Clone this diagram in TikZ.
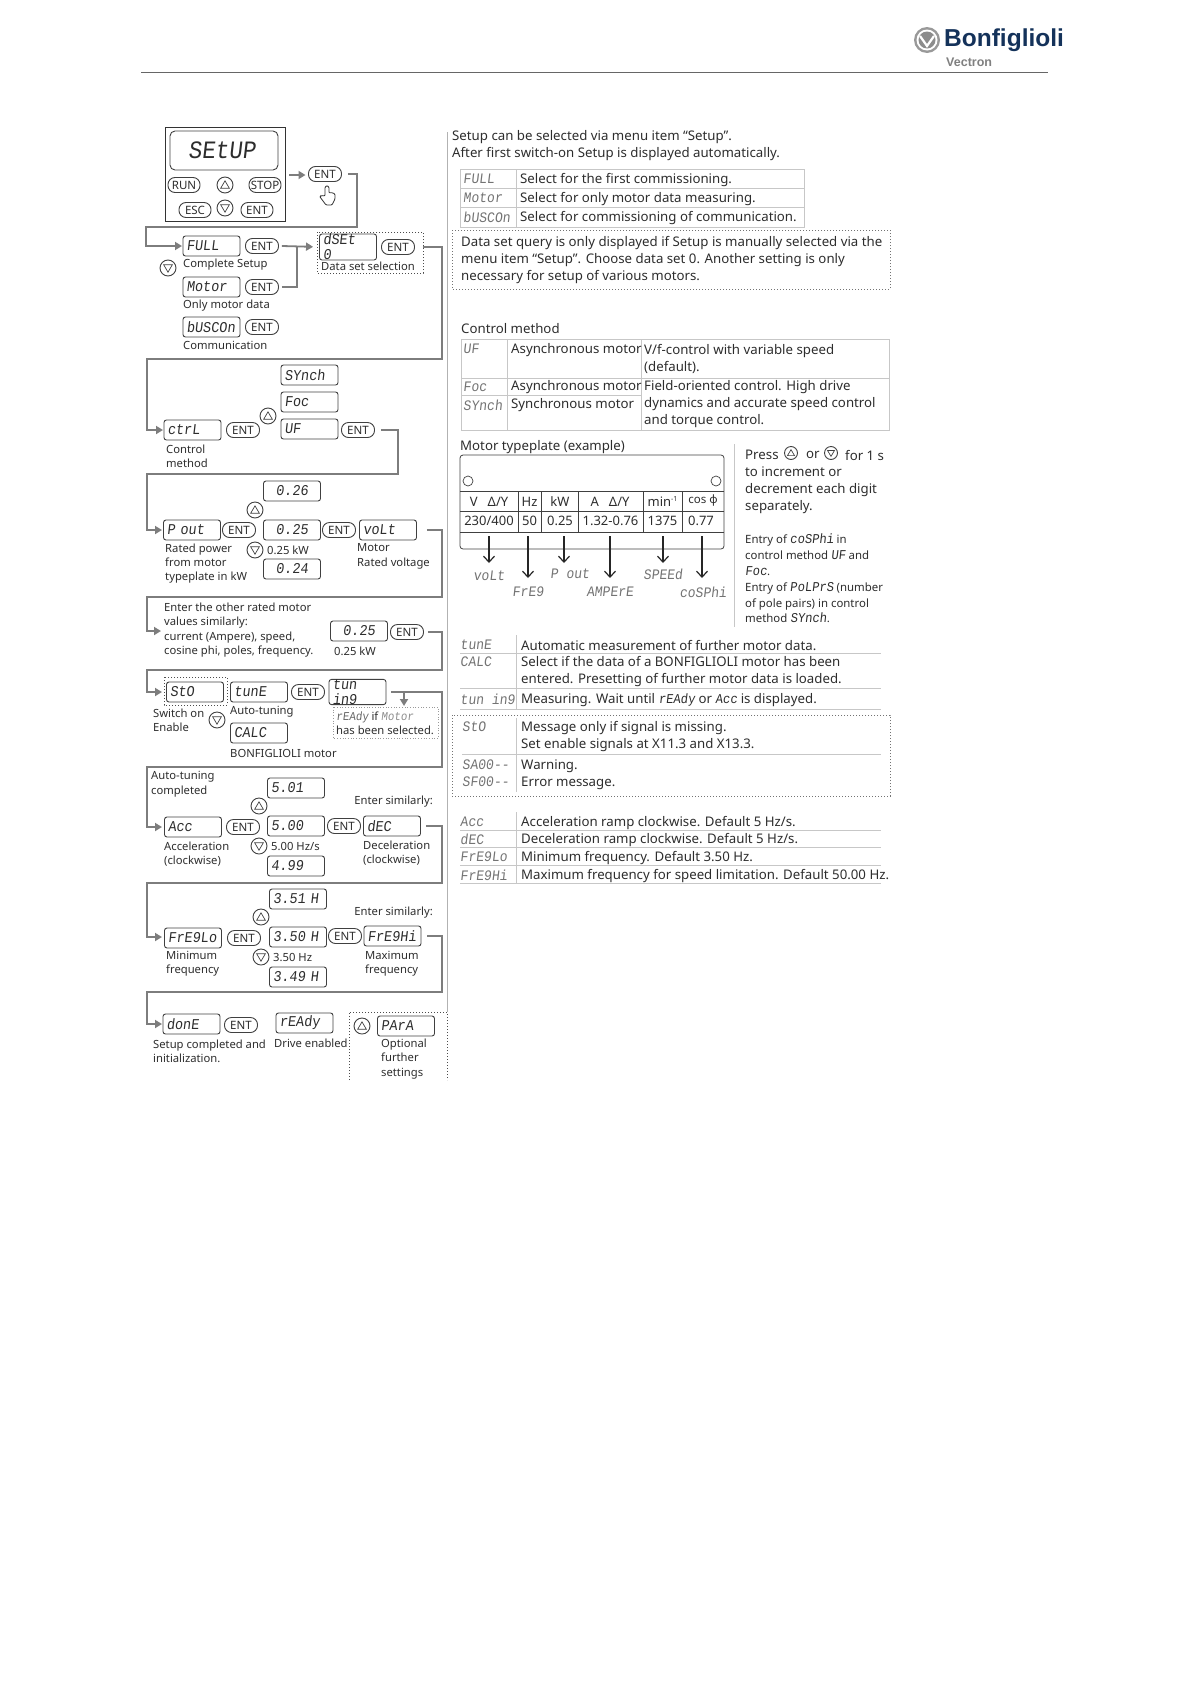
\documentclass[tikz,border=0pt]{standalone}
\usepackage{fontspec}
\usepackage{tikz}
\usetikzlibrary{arrows.meta}
\setmainfont{Noto Sans}
\newfontfamily\segfont[FakeSlant=0.12,FakeStretch=0.9]{Liberation Mono}
\newfontfamily\logofont{Liberation Sans}
\newcommand{\seg}[1]{{\segfont\fontsize{13.5}{13.5}\selectfont #1}}
\definecolor{flowgray}{RGB}{125,125,125}
\definecolor{inkdark}{RGB}{45,45,45}
\definecolor{navy}{RGB}{20,50,90}
\tikzset{
    every node/.style={text=inkdark},
    flow/.style={draw=flowgray,line width=1.8pt},
    flowtip/.style={flow,-{Triangle[length=7pt,width=8pt]}},
    platearrow/.style={draw=black!85,line width=1.2pt,-{Straight Barb[length=6pt,width=11pt]}},
    dispbox/.style={draw=black!75,line width=0.9pt,rounded corners=2.5pt,minimum width=57pt,minimum height=20pt,inner sep=0pt,text width=50pt,align=left,font=\segfont\fontsize{15}{15}\selectfont},
    dispnum/.style={dispbox,align=center},
    entkey/.style={draw=black!75,line width=0.9pt,rounded corners=7pt,minimum width=33pt,minimum height=15pt,inner sep=0pt,font=\fontsize{11.5}{12}\selectfont},
    upkey/.style={circle,draw=black!75,line width=0.9pt,minimum size=#1,inner sep=0pt,path picture={\draw[black!75,line width=0.7pt] ([yshift=0.26*#1]path picture bounding box.center) -- ([xshift=0.27*#1,yshift=-0.2*#1]path picture bounding box.center) -- ([xshift=-0.27*#1,yshift=-0.2*#1]path picture bounding box.center) -- cycle;}},
    downkey/.style={circle,draw=black!75,line width=0.9pt,minimum size=#1,inner sep=0pt,path picture={\draw[black!75,line width=0.7pt] ([yshift=-0.26*#1]path picture bounding box.center) -- ([xshift=0.27*#1,yshift=0.2*#1]path picture bounding box.center) -- ([xshift=-0.27*#1,yshift=0.2*#1]path picture bounding box.center) -- cycle;}},
    note/.style={anchor=west,inner sep=0pt,align=left,font=\fontsize{11.25}{14.4}\selectfont},
    body/.style={anchor=west,inner sep=0pt,align=left,yshift=-1pt,font=\fontsize{13.25}{17}\selectfont},
    tabseg/.style={anchor=west,inner sep=0pt,text=black!55,font=\segfont\fontsize{14.5}{15}\selectfont},
    cell/.style={inner sep=0pt,font=\fontsize{13}{15}\selectfont},
    tabline/.style={draw=black!22,line width=0.8pt},
    rulegray/.style={draw=black!30,line width=0.9pt},
    dotbox/.style={draw=black!70,line width=1pt,dotted},
}
\begin{document}
\begin{tikzpicture}[x=1pt,y=-1pt]
    \useasboundingbox (0,0) rectangle (1191,1684);

    % header
    \draw[draw=black!60,line width=1pt] (141,72) -- (1048,72);
    \fill[black!40] (927,40) circle (13);
    \fill[white] (927,40) circle (10.5);
    \fill[black!45] (927,40) circle (8.5);
    \draw[white,line width=2.2pt] (920,36) -- (927,46) -- (934,36);
    \node[anchor=west,inner sep=0pt,text=navy,font=\logofont\bfseries\fontsize{24.5}{26}\selectfont] (logoMain) at (944,40) {Bonfiglioli};
    \node[anchor=west,inner sep=0pt,text=black!50,font=\logofont\bfseries\fontsize{12.5}{13}\selectfont] (logoSub) at (946,62) {Vectron};

    % panel
    \draw[draw=black!80,line width=1pt] (165,127) rectangle (285,221);
    \node[dispbox,minimum width=108pt,minimum height=39pt,text width=100pt,align=center,rounded corners=5pt,font=\segfont\fontsize{25}{26}\selectfont] (setupBox) at (224,150.5) {\hspace*{-4pt}SEtUP};
    \node[entkey,minimum width=32pt] (runKey) at (184,185) {RUN};
    \node[upkey=16pt] (panelUp) at (225,185) {};
    \node[entkey,minimum width=32pt] (stopKey) at (265,185) {STOP};
    \node[entkey,minimum width=32pt] (escKey) at (195,210) {ESC};
    \node[downkey=16pt] (panelDown) at (225,208) {};
    \node[entkey,minimum width=32pt] (panelEnt) at (257,210) {ENT};
    \coordinate (panelOut) at (289,175);
    \draw[flowtip,shorten >=3pt] (panelOut) -- (308.5,175);
    \node[entkey] (entSetup) at (325,174) {ENT};
    % hand
    \draw[draw=black!80,line width=0.8pt,rounded corners=1pt,fill=white] (325,196) -- (325,187) -- (327,185.5) -- (329,187) -- (329,193) -- (331,192.5) -- (333,193) -- (335,194) -- (335,199) -- (332,205) -- (326,205) -- (320,197) -- (321,195.5) -- cycle;

    % mode selection
    \coordinate (turnA) at (357,227);
    \coordinate (railA) at (146,246);
    \draw[flowtip] ([xshift=6pt]entSetup.east) -| (turnA) -| (railA) -- (182,246);
    \node[dispbox] (fullBox) at (211.5,246) {FULL};
    \node[entkey] (entFull) at (262,246) {ENT};
    \node[note] (fullNote) at (183,265) {Complete Setup};
    \node[downkey=16pt] (modeDown) at (168,268) {};
    \node[dispbox] (motorBox) at (211.5,287) {Motor};
    \node[entkey] (entMotor) at (262,287) {ENT};
    \node[note] (motorNote) at (183,306) {Only motor data};
    \node[dispbox] (busBox) at (211.5,327) {bUSCOn};
    \node[entkey] (entBus) at (262,327) {ENT};
    \node[note] (busNote) at (183,345) {Communication};
    \node[dispbox] (dsetBox) at (348,247) {dSEt\ \ 0};
    \node[entkey] (entDset) at (398,247) {ENT};
    \node[note,anchor=center] (dsetNote) at (368,266) {Data set selection};
    \draw[dotbox] (317,232) rectangle (423,273);
    \draw[flow] ([xshift=3pt]entMotor.east) -| (297,246);
    \draw[flowtip,shorten >=6pt] ([xshift=3pt]entFull.east) -- (dsetBox.west);

    % control method
    \coordinate (turnB) at (442,359);
    \coordinate (railB) at (147,430);
    \draw[flowtip] ([xshift=8pt]entDset.east) -| (turnB) -| (railB) -- (163,430);
    \node[dispbox] (ctrlBox) at (192.5,430) {ctrL};
    \node[entkey] (entCtrl) at (243,430) {ENT};
    \node[note] (ctrlNote) at (166,456.5) {Control\\method};
    \node[upkey=16pt] (ctrlUp) at (268,416) {};
    \node[dispbox] (synchBox) at (309.5,375) {SYnch};
    \node[dispbox] (focBox) at (309.5,402) {Foc};
    \node[dispbox] (ufBox) at (309.5,429) {UF};
    \node[entkey] (entUf) at (358,430) {ENT};

    % rated power
    \coordinate (turnC) at (398,474);
    \coordinate (railC) at (147,530);
    \draw[flowtip] ([xshift=6pt]entUf.east) -| (turnC) -| (railC) -- (162,530);
    \node[dispbox] (poutBox) at (192,530) {P out};
    \node[entkey] (entPout) at (239,530) {ENT};
    \node[note] (poutNote) at (165,563.5) {Rated power\\from motor\\typeplate in kW};
    \node[upkey=16pt] (poutUp) at (255,510) {};
    \node[downkey=16pt] (poutDown) at (255,550) {};
    \node[dispnum] (pUpBox) at (292,491) {0.26};
    \node[dispnum] (pMidBox) at (292,530) {0.25};
    \node[dispnum] (pLowBox) at (292,569) {0.24};
    \node[note] (pMidNote) at (267,550) {0.25 kW};
    \node[entkey] (entPmid) at (339,530) {ENT};
    \node[dispbox] (voltBox) at (388,530) {voLt};
    \node[note] (voltNote) at (357,556.5) {Motor\\Rated voltage};

    % other values
    \coordinate (turnD) at (442,597);
    \coordinate (railD) at (147,631);
    \draw[flowtip] (voltBox.east) ++(10,0) -| (turnD) -| (railD) -- (161,631);
    \node[note] (otherNote) at (164,630) {Enter the other rated motor\\values similarly:\\current (Ampere), speed,\\cosine phi, poles, frequency.};
    \node[dispnum] (otherBox) at (359,631) {0.25};
    \node[entkey] (entOther) at (407,632) {ENT};
    \node[note] (otherVal) at (334,651) {0.25 kW};

    % auto-tuning
    \coordinate (turnE) at (442,670);
    \coordinate (railE) at (147,692);
    \draw[flowtip] ([xshift=4pt]entOther.east) -| (turnE) -| (railE) -- (162,692);
    \draw[dotbox] (164,677) rectangle (227,705);
    \node[dispbox] (stoBox) at (195,692) {StO};
    \node[dispbox] (tuneBox) at (259,692) {tunE};
    \node[entkey] (entTune) at (308,692) {ENT};
    \node[dispbox] (tuningBox) at (357.5,692) {tun in9};
    \node[note] (stoNote) at (153,720) {Switch on\\Enable};
    \node[downkey=16pt] (stoDown) at (217,720) {};
    \node[note] (tuneNote) at (230,712) {Auto-tuning};
    \node[dispbox] (calcBox) at (259,733) {CALC};
    \node[note] (calcNote) at (230,753) {BONFIGLIOLI motor};
    \draw[draw=black!40,line width=0.7pt,dotted] (333,707) rectangle (438,738);
    \node[note] (readyNote) at (336,723.5) {{\segfont\fontsize{12}{12}\selectfont\color{black!60}rEAdy} if {\segfont\fontsize{12}{12}\selectfont\color{black!45}Motor}\\has been selected.};
    \coordinate (tapTune) at (404,692);
    \coordinate (tapEnd) at (404,706);
    \coordinate (turnF) at (442,767);
    \coordinate (railF) at (147,827);
    \draw[flowtip] (tapTune) -- (tapEnd);
    \draw[flowtip] (tuningBox.east) ++(5,0) -| (turnF) -| (railF) -- (162,827);

    % acceleration
    \node[note] (tunedNote) at (151,784) {Auto-tuning\\completed};
    \node[dispbox] (accBox) at (193,827) {Acc};
    \node[entkey] (entAcc) at (243,827) {ENT};
    \node[note] (accNote) at (164,854) {Acceleration\\(clockwise)};
    \node[upkey=16pt] (accUp) at (259,806) {};
    \node[downkey=16pt] (accDown) at (259,846) {};
    \node[dispbox] (aUpBox) at (296,788) {5.01};
    \node[dispbox] (aMidBox) at (296,826) {5.00};
    \node[dispbox] (aLowBox) at (296,866) {4.99};
    \node[note] (aMidNote) at (271,846) {5.00 Hz/s};
    \node[entkey] (entAmid) at (344,826) {ENT};
    \node[note,anchor=east] (simNoteA) at (433,802) {Enter similarly:};
    \node[dispbox] (decBox) at (392,826) {dEC};
    \node[note] (decNote) at (363,853) {Deceleration\\(clockwise)};

    % frequency
    \coordinate (turnG) at (442,883);
    \coordinate (railG) at (147,937);
    \draw[flowtip] (decBox.east) ++(5,0) -| (turnG) -| (railG) -- (162,937);
    \node[dispbox] (fminBox) at (193,938) {FrE9Lo};
    \node[entkey] (entFmin) at (244,938) {ENT};
    \node[note] (fminNote) at (166,963.5) {Minimum\\frequency};
    \node[upkey=16pt] (fminUp) at (261,917) {};
    \node[downkey=16pt] (fminDown) at (261,957) {};
    \node[dispbox] (fUpBox) at (298,899) {3.51 H};
    \node[dispbox] (fMidBox) at (298,937) {3.50 H};
    \node[dispbox] (fLowBox) at (298,977) {3.49 H};
    \node[note] (fMidNote) at (273,957) {3.50 Hz};
    \node[entkey] (entFmid) at (345,936) {ENT};
    \node[note,anchor=east] (simNoteB) at (433,913) {Enter similarly:};
    \node[dispbox] (fmaxBox) at (392.5,936) {FrE9Hi};
    \node[note] (fmaxNote) at (365,963.5) {Maximum\\frequency};

    % done
    \coordinate (turnH) at (442,992);
    \coordinate (railH) at (147,1024);
    \draw[flowtip] (fmaxBox.east) ++(6,0) -| (turnH) -| (railH) -- (162,1024);
    \node[dispbox] (doneBox) at (191.5,1024) {donE};
    \node[entkey] (entDone) at (241,1025) {ENT};
    \node[note] (doneNote) at (153,1051.5) {Setup completed and\\initialization.};
    \node[dispbox] (readyBox) at (304.5,1023) {rEAdy};
    \node[note] (readyText) at (274,1043) {Drive enabled};
    \draw[dotbox] (349,1080) -- (349,1012) -- (447,1012) -- (447,1080);
    \node[upkey=16pt] (paraUp) at (362,1026) {};
    \node[dispbox] (paraBox) at (406,1026) {PArA};
    \node[note] (paraNote) at (381,1059) {Optional\\further\\settings};

    % divider
    \draw[rulegray] (447,132) -- (447,1012);

    % setup text
    \node[body] (introText) at (452,144.5) {Setup can be selected via menu item “Setup”.\\After first switch-on Setup is displayed automatically.};
    \draw[tabline] (460,169) rectangle (804,227);
    \draw[tabline] (460,188) -- (804,188);
    \draw[tabline] (460,207) -- (804,207);
    \draw[tabline] (516,169) -- (516,227);
    \node[tabseg] (tabFull) at (463,179) {FULL};
    \node[tabseg] (tabMotor) at (463,198) {Motor};
    \node[tabseg] (tabBus) at (463,217) {bUSCOn};
    \node[body] (txtFull) at (520,179) {Select for the first commissioning.};
    \node[body] (txtMotor) at (520,198) {Select for only motor data measuring.};
    \node[body] (txtBus) at (520,217) {Select for commissioning of communication.};
    \draw[dotbox,draw=black!55] (452,230) rectangle (890,289);
    \node[body] (dsetText) at (461,259) {Data set query is only displayed if Setup is manually selected via the\\menu item “Setup”. Choose data set 0. Another setting is only\\necessary for setup of various motors.};

    % control method table
    \node[body] (ctrlTitle) at (461,328) {Control method};
    \draw[tabline] (461,339) rectangle (889,430);
    \draw[tabline] (461,378) -- (889,378);
    \draw[tabline] (461,395) -- (641,395);
    \draw[tabline] (507,339) -- (507,430);
    \draw[tabline] (641,339) -- (641,430);
    \node[tabseg] (tabUf) at (463,349) {UF};
    \node[tabseg] (tabFoc) at (463,387) {Foc};
    \node[tabseg] (tabSynch) at (463,405) {SYnch};
    \node[body] (txtAsyncA) at (511,349) {Asynchronous motor};
    \node[body] (txtAsyncB) at (511,386) {Asynchronous motor};
    \node[body] (txtSync) at (511,404) {Synchronous motor};
    \node[body] (txtUf) at (644,358) {V/f-control with variable speed\\(default).};
    \node[body] (txtFoc) at (644,403) {Field-oriented control. High drive\\dynamics and accurate speed control\\and torque control.};

    % typeplate
    \node[body] (plateTitle) at (460,446) {Motor typeplate (example)};
    \draw[draw=black!75,line width=0.8pt,rounded corners=3pt] (460,455) rectangle (724,549);
    \draw[draw=black!75,line width=0.8pt] (460,491) -- (724,491);
    \draw[draw=black!75,line width=0.8pt] (460,511) -- (724,511);
    \draw[draw=black!75,line width=0.8pt] (460,532) -- (724,532);
    \foreach \x in {518,541,578,643,682}
        \draw[draw=black!75,line width=0.8pt] (\x,491) -- (\x,532);
    \draw[black!75,line width=0.7pt] (468,481) circle (5);
    \draw[black!75,line width=0.7pt] (716,481) circle (5);
    \node[cell] (headV) at (489,501.5) {V~~~Δ/Y};
    \node[cell] (headHz) at (529.5,501.5) {Hz};
    \node[cell] (headKw) at (560,501.5) {kW};
    \node[cell] (headA) at (610,501.5) {A~~~Δ/Y};
    \node[cell] (headMin) at (662.5,501.5) {min\raisebox{0.7ex}{\fontsize{7}{7}\selectfont -1}};
    \node[cell,font=\fontsize{11.5}{14}\selectfont] (headCos) at (703,501) {cos φ};
    \node[cell] (valV) at (489,521) {230/400};
    \node[cell] (valHz) at (529.5,521) {50};
    \node[cell] (valKw) at (560,521) {0.25};
    \node[cell] (valA) at (610.5,521) {1.32-0.76};
    \node[cell] (valMin) at (662.5,521) {1375};
    \node[cell] (valCos) at (701,521) {0.77};
    \coordinate (tapVolt) at (489,536);
    \coordinate (tapFreq) at (528,536);
    \coordinate (tapPout) at (564,536);
    \coordinate (tapAmp) at (610,536);
    \coordinate (tapSpeed) at (663,536);
    \coordinate (tapCos) at (702,536);
    \node[tabseg,anchor=center] (lblVolt) at (489,576) {voLt};
    \node[tabseg,anchor=center] (lblFreq) at (528,592) {FrE9};
    \node[tabseg,anchor=center] (lblPout) at (570,574) {P out};
    \node[tabseg,anchor=center] (lblAmp) at (610,592) {AMPErE};
    \node[tabseg,anchor=center] (lblSpeed) at (663,574) {SPEEd};
    \node[tabseg,anchor=center] (lblCos) at (703,592) {coSPhi};
    \draw[platearrow] (tapVolt) -- (489,563);
    \draw[platearrow] (tapFreq) -- (528,578);
    \draw[platearrow] (tapPout) -- (564,563);
    \draw[platearrow] (tapAmp) -- (610,578);
    \draw[platearrow] (tapSpeed) -- (663,563);
    \draw[platearrow] (tapCos) -- (702,578);

    % notes beside typeplate
    \draw[tabline] (734,444) -- (734,627);
    \node[body] (pressA) at (745,454) {Press};
    \node[upkey=13pt] (pressUp) at (791,453) {};
    \node[body] (pressOr) at (806,454) {or};
    \node[downkey=13pt] (pressDown) at (831,453) {};
    \node[body] (pressB) at (845,454) {for 1 s};
    \node[body] (pressC) at (745,489.5) {to increment or\\decrement each digit\\separately.};
    \node[note,font=\fontsize{11.4}{15.8}\selectfont] (entryText) at (745,578.5) {Entry of \seg{coSPhi} in\\control method \seg{UF} and\\\seg{Foc}.\\Entry of \seg{PoLPrS} (number\\of pole pairs) in control\\method \seg{SYnch}.};

    % tuning table
    \draw[tabline] (516,635) -- (516,709);
    \draw[tabline] (460,653) -- (881,653);
    \draw[tabline] (460,688) -- (881,688);
    \draw[tabline] (460,709) -- (881,709);
    \node[tabseg] (tabTune) at (460,645) {tunE};
    \node[tabseg] (tabCalc) at (460,662) {CALC};
    \node[tabseg] (tabTuning) at (460,699) {tun in9};
    \node[body] (txtTune) at (521,645) {Automatic measurement of further motor data.};
    \node[body] (txtCalc) at (521,670.5) {Select if the data of a BONFIGLIOLI motor has been\\entered. Presetting of further motor data is loaded.};
    \node[body] (txtTuning) at (521,699) {Measuring. Wait until \seg{rEAdy} or \seg{Acc} is displayed.};

    % messages
    \draw[dotbox,draw=black!55] (452,715) rectangle (890,796);
    \draw[tabline] (516,718) -- (516,792);
    \draw[tabline] (462,754) -- (881,754);
    \node[tabseg] (tabSto) at (462,727) {StO};
    \node[tabseg] (tabWarn) at (462,765) {SA00--};
    \node[tabseg] (tabErr) at (462,782) {SF00--};
    \node[body] (txtSto) at (521,735.5) {Message only if signal is missing.\\Set enable signals at X11.3 and X13.3.};
    \node[body] (txtWarn) at (521,765) {Warning.};
    \node[body] (txtErr) at (521,782) {Error message.};

    % ramps and limits
    \draw[tabline] (516,812) -- (516,884);
    \foreach \y in {830,847,865,883}
        \draw[tabline] (460,\y) -- (881,\y);
    \node[tabseg] (tabAcc) at (460,822) {Acc};
    \node[tabseg] (tabDec) at (460,839) {dEC};
    \node[tabseg] (tabFmin) at (460,857) {FrE9Lo};
    \node[tabseg] (tabFmax) at (460,875) {FrE9Hi};
    \node[body] (txtAcc) at (521,822) {Acceleration ramp clockwise. Default 5 Hz/s.};
    \node[body] (txtDec) at (521,839) {Deceleration ramp clockwise. Default 5 Hz/s.};
    \node[body] (txtFmin) at (521,857) {Minimum frequency. Default 3.50 Hz.};
    \node[body] (txtFmax) at (521,875) {Maximum frequency for speed limitation. Default 50.00 Hz.};
\end{tikzpicture}
\end{document}
